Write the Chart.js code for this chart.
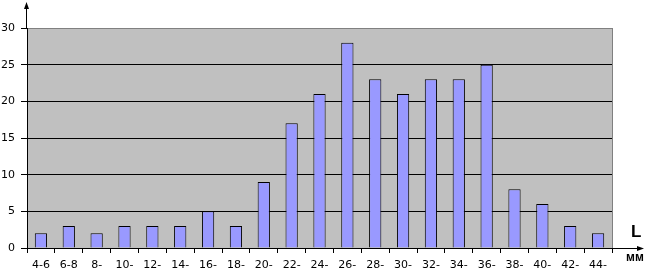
<!DOCTYPE html>
<html><head><meta charset="utf-8">
<script src="https://cdn.jsdelivr.net/npm/chart.js@4/dist/chart.umd.min.js"></script>
<style>
html,body{margin:0;padding:0;background:#fff;}
#wrap{position:relative;width:649px;height:270px;}
.lbl{position:absolute;font-family:"Liberation Sans",Arial,sans-serif;color:#000;font-weight:bold;line-height:1;}
</style></head><body>
<div id="wrap"><canvas id="c" width="649" height="270"></canvas>
<div class="lbl" style="left:631px;top:223px;font-size:17px;">L</div>
<div class="lbl" style="left:626px;top:251px;font-size:12px;">мм</div>
</div>
<script>
const categories = ["4-6","6-8","8-","10-","12-","14-","16-","18-","20-","22-","24-","26-","28-","30-","32-","34-","36-","38-","40-","42-","44-"];
const counts = [2,3,2,3,3,3,5,3,9,17,21,28,23,21,23,23,25,8,6,3,2];
const yTicks = [0,5,10,15,20,25,30];

const deco = {
  id:'deco',
  beforeDraw(chart){
    const {ctx, chartArea:a} = chart;
    ctx.save();
    ctx.fillStyle = '#C0C0C0';
    ctx.fillRect(a.left, a.top, a.right-a.left, a.bottom-a.top);
    ctx.restore();
  },
  afterDraw(chart){
    const {ctx, chartArea:a} = chart;
    ctx.save();
    ctx.strokeStyle = '#808080'; ctx.lineWidth = 1;
    ctx.beginPath(); ctx.moveTo(a.right+0.5, a.top); ctx.lineTo(a.right+0.5, a.bottom); ctx.stroke();
    ctx.strokeStyle = '#000';
    const x0 = a.left - 0.5;
    ctx.beginPath(); ctx.moveTo(x0, a.top); ctx.lineTo(x0, 4); ctx.stroke();
    ctx.fillStyle = '#000';
    ctx.beginPath(); ctx.moveTo(x0, 2); ctx.lineTo(x0-2.5, 9); ctx.lineTo(x0+2.5, 9); ctx.closePath(); ctx.fill();
    const y0 = a.bottom + 0.5;
    ctx.beginPath(); ctx.moveTo(a.right, y0); ctx.lineTo(640, y0); ctx.stroke();
    ctx.beginPath(); ctx.moveTo(644, y0); ctx.lineTo(637, y0-2.5); ctx.lineTo(637, y0+2.5); ctx.closePath(); ctx.fill();
    ctx.restore();
  }
};

const tickFont = {family:'"DejaVu Sans", Verdana, sans-serif', size:11};

new Chart(document.getElementById('c'), {
  type:'bar',
  data:{labels:categories, datasets:[{data:counts, backgroundColor:'#9999FF', borderColor:'#000', borderWidth:1, barPercentage:0.44, categoryPercentage:1}]},
  options:{
    responsive:false, animation:false,
    layout:{padding:{top:28,right:37,left:0,bottom:0}},
    plugins:{legend:{display:false}, tooltip:{enabled:false}},
    scales:{
      x:{
        offset:true,
        grid:{display:true, drawOnChartArea:false, drawTicks:true, tickLength:5, color:'#000', offset:true},
        border:{display:true, color:'#000'},
        ticks:{color:'#000', font:tickFont, padding:6, maxRotation:0, autoSkip:false},
        afterFit(s){ s.height = 22; }
      },
      y:{
        min:0, max:30,
        afterBuildTicks(s){ s.ticks = yTicks.map(v=>({value:v})); },
        grid:{color:(c)=> (c.tick && c.tick.value===30) ? '#808080' : '#000', tickColor:'#000', tickLength:6, lineWidth:1},
        border:{display:true, color:'#000'},
        ticks:{color:'#000', font:tickFont, padding:6},
        afterFit(s){ s.width = 27; }
      }
    }
  },
  plugins:[deco]
});
</script>
</body></html>
